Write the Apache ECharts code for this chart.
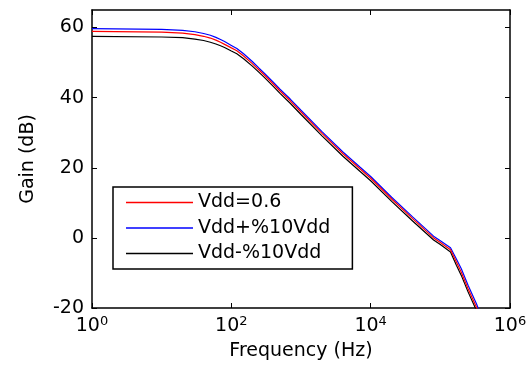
<!DOCTYPE html>
<html>
<head>
<meta charset="utf-8">
<script src="https://cdn.jsdelivr.net/npm/echarts@6/dist/echarts.min.js"></script>
<style>
html,body{margin:0;padding:0;background:#fff;}
#c{width:532px;height:366px;}
</style>
</head>
<body>
<div id="c"></div>
<script>
// Frequency points (Hz)
const freqs = [1, 10, 20, 30, 40, 50, 60, 70, 80, 100, 120, 150, 200, 250, 300, 400, 500, 700, 1000, 2000, 4000, 7000, 10000, 20000, 40000, 80000, 100000, 140000, 170000, 200000, 250000, 330000, 400000];
// Gain (dB)
const gainNominal = [58.9, 58.7, 58.4, 58.0, 57.5, 57.0, 56.4, 55.8, 55.2, 54.2, 53.4, 51.9, 49.7, 47.9, 46.4, 43.9, 41.9, 39.1, 35.9, 29.8, 24.0, 19.7, 17.0, 11.1, 5.5, 0.0, -1.3, -3.4, -6.9, -9.8, -14.5, -19.8, -24.0];
const gainPlus =    [59.7, 59.5, 59.2, 58.8, 58.3, 57.8, 57.2, 56.6, 56.0, 54.9, 54.0, 52.5, 50.3, 48.4, 46.9, 44.4, 42.4, 39.6, 36.4, 30.3, 24.5, 20.2, 17.5, 11.6, 6.0, 0.5, -0.8, -2.8, -6.0, -8.8, -13.5, -18.8, -23.0];
const gainMinus =   [57.5, 57.3, 57.1, 56.7, 56.3, 55.8, 55.3, 54.8, 54.3, 53.3, 52.5, 51.1, 49.0, 47.2, 45.7, 43.2, 41.2, 38.4, 35.2, 29.1, 23.3, 19.0, 16.3, 10.4, 4.8, -0.6, -1.9, -4.0, -7.8, -10.7, -15.4, -20.7, -25.0];
const seriesNames = ['Vdd=0.6', 'Vdd+%10Vdd', 'Vdd-%10Vdd'];
const xTicks = [1, 100, 10000, 1000000];
const yTicks = [-20, 0, 20, 40, 60];
const yMin = -20, yMax = 65;

const FONT = 'DejaVu Sans, Liberation Sans, sans-serif';
const FS = 19;
function pairs(g){ return freqs.map((f,i)=>[f,g[i]]); }

const axisLineStyle = {color:'#000', width:1.5};
const chart = echarts.init(document.getElementById('c'), null, {renderer:'canvas'});
chart.setOption({
  animation:false,
  backgroundColor:'#fff',
  grid:{left:92, right:22, top:10, bottom:58},
  legend:{
    orient:'vertical',
    left:113, top:187,
    data:seriesNames,
    icon:'rect',
    itemWidth:67, itemHeight:1.3, itemGap:6.5,
    padding:[6,22,6,13],
    borderColor:'#000', borderWidth:1.5,
    backgroundColor:'#fff',
    textStyle:{fontFamily:FONT, fontSize:FS, color:'#000'}
  },
  xAxis:[{
    type:'log', min:1, max:1000000, logBase:10,
    name:'Frequency (Hz)', nameLocation:'middle', nameGap:34,
    nameTextStyle:{fontFamily:FONT, fontSize:FS, color:'#000'},
    axisLine:{show:true, onZero:false, lineStyle:axisLineStyle},
    axisTick:{show:true, inside:true, length:5, customValues:xTicks, lineStyle:{color:'#000'}},
    axisLabel:{
      customValues:xTicks, margin:7,
      formatter:function(v){ return '{b|10}{s|' + Math.round(Math.log10(v)) + '}'; },
      rich:{
        b:{fontFamily:FONT, fontSize:FS, color:'#000'},
        s:{fontFamily:FONT, fontSize:13, color:'#000', padding:[0,0,10,0]}
      }
    },
    splitLine:{show:false}, minorTick:{show:false}
  },{
    type:'log', min:1, max:1000000, logBase:10, position:'top',
    axisLine:{show:true, onZero:false, lineStyle:axisLineStyle},
    axisTick:{show:true, inside:true, length:5, customValues:xTicks, lineStyle:{color:'#000'}},
    axisLabel:{show:false}, splitLine:{show:false}
  }],
  yAxis:[{
    type:'value', min:yMin, max:yMax,
    name:'Gain (dB)', nameLocation:'middle', nameGap:54,
    nameTextStyle:{fontFamily:FONT, fontSize:FS, color:'#000'},
    axisLine:{show:true, onZero:false, lineStyle:axisLineStyle},
    axisTick:{show:true, inside:true, length:5, customValues:yTicks, lineStyle:{color:'#000'}},
    axisLabel:{customValues:yTicks, margin:8, fontFamily:FONT, fontSize:FS, color:'#000'},
    splitLine:{show:false}
  },{
    type:'value', min:yMin, max:yMax, position:'right',
    axisLine:{show:true, onZero:false, lineStyle:axisLineStyle},
    axisTick:{show:true, inside:true, length:5, customValues:yTicks, lineStyle:{color:'#000'}},
    axisLabel:{show:false}, splitLine:{show:false}
  }],
  series:[
    {name:seriesNames[1], type:'line', data:pairs(gainPlus), showSymbol:false, symbol:'none', clip:true, lineStyle:{color:'#0000ff', width:1.2}, itemStyle:{color:'#0000ff'}, z:2},
    {name:seriesNames[2], type:'line', data:pairs(gainMinus), showSymbol:false, symbol:'none', clip:true, lineStyle:{color:'#000000', width:1.2}, itemStyle:{color:'#000000'}, z:3},
    {name:seriesNames[0], type:'line', data:pairs(gainNominal), showSymbol:false, symbol:'none', clip:true, lineStyle:{color:'#ff0000', width:1.2}, itemStyle:{color:'#ff0000'}, z:4}
  ]
});
</script>
</body>
</html>
